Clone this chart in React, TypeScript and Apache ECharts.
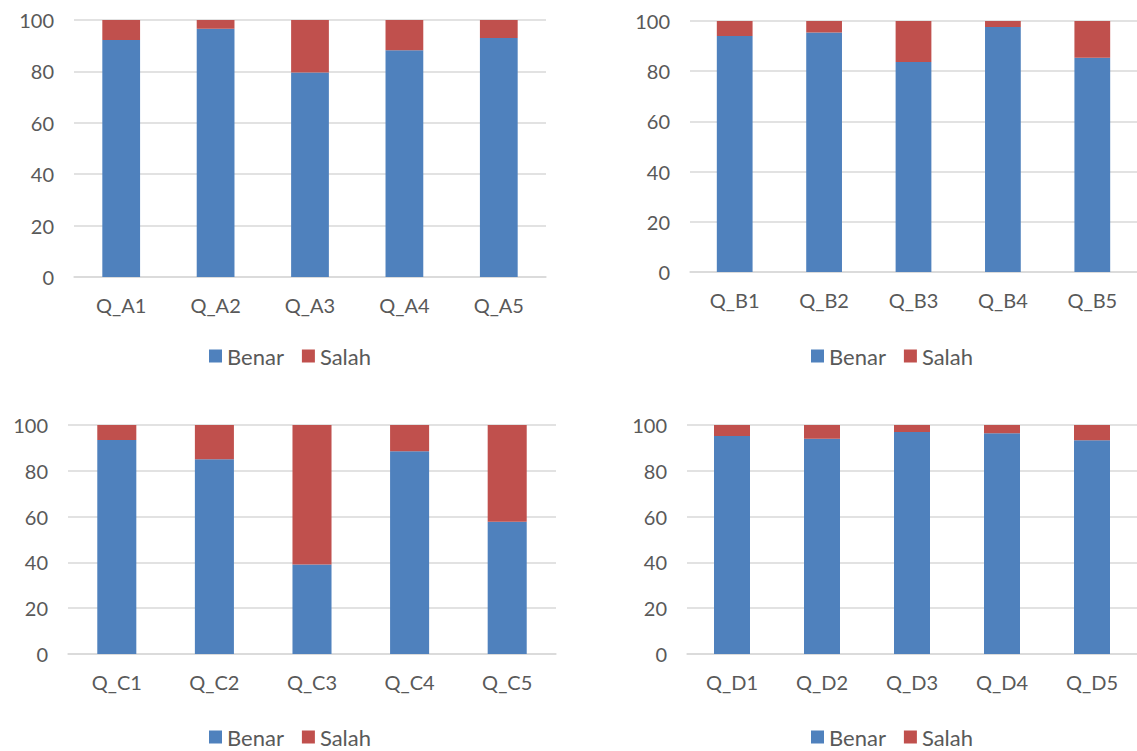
import React, { useEffect, useRef } from "react";
import * as echarts from "echarts";

const catsA = ["Q_A1", "Q_A2", "Q_A3", "Q_A4", "Q_A5"];
const catsB = ["Q_B1", "Q_B2", "Q_B3", "Q_B4", "Q_B5"];
const catsC = ["Q_C1", "Q_C2", "Q_C3", "Q_C4", "Q_C5"];
const catsD = ["Q_D1", "Q_D2", "Q_D3", "Q_D4", "Q_D5"];

const benarA = [92.2, 96.6, 79.6, 88.2, 93.0];
const benarB = [94.0, 95.4, 83.7, 97.6, 85.4];
const benarC = [93.4, 85.0, 39.1, 88.5, 57.8];
const benarD = [95.2, 94.0, 96.9, 96.4, 93.3];

const salahA = [7.8, 3.4, 20.4, 11.8, 7.0];
const salahB = [6.0, 4.6, 16.3, 2.4, 14.6];
const salahC = [6.6, 15.0, 60.9, 11.5, 42.2];
const salahD = [4.8, 6.0, 3.1, 3.6, 6.7];

const yTicks = [0, 20, 40, 60, 80, 100];

const BLUE = "#4F81BD";
const RED = "#C0504D";
const TXT = "#595959";
const GRID = "#D9D9D9";
const FONT = "Lato, 'Open Sans', sans-serif";

export default function App() {
  const ref = useRef<HTMLDivElement>(null);
  useEffect(() => {
    if (!ref.current) return;
    const chart = echarts.init(ref.current, null, { renderer: "svg" });
    const panels = [
      { cats: catsA, benar: benarA, salah: salahA, grid: { left: 74, width: 472, top: 20, height: 257 }, legendTop: 340, legendLeft: 204 },
      { cats: catsB, benar: benarB, salah: salahB, grid: { left: 690, width: 449, top: 21, height: 251 }, legendTop: 340, legendLeft: 806 },
      { cats: catsC, benar: benarC, salah: salahC, grid: { left: 68, width: 488, top: 425, height: 229 }, legendTop: 721, legendLeft: 204 },
      { cats: catsD, benar: benarD, salah: salahD, grid: { left: 687, width: 455, top: 425, height: 229 }, legendTop: 721, legendLeft: 806 },
    ];
    const option: any = {
      animation: false,
      backgroundColor: "#ffffff",
      textStyle: { fontFamily: FONT },
      grid: panels.map((p) => ({ ...p.grid, containLabel: false })),
      legend: panels.map((p) => ({
        data: ["Benar", "Salah"],
        left: p.legendLeft,
        top: p.legendTop,
        itemWidth: 13,
        itemHeight: 13,
        itemGap: 18,
        icon: "rect",
        textStyle: { fontSize: 22, color: TXT, fontFamily: FONT },
        selectedMode: false,
      })),
      xAxis: panels.map((p, i) => ({
        type: "category",
        gridIndex: i,
        data: p.cats,
        axisLine: { show: true, lineStyle: { color: GRID, width: 1.5 } },
        axisTick: { show: false },
        axisLabel: { fontSize: 20, color: TXT, margin: 18, fontFamily: FONT },
      })),
      yAxis: panels.map((p, i) => ({
        type: "value",
        gridIndex: i,
        min: yTicks[0],
        max: yTicks[yTicks.length - 1],
        interval: 20,
        axisLine: { show: false },
        axisTick: { show: false },
        splitLine: { lineStyle: { color: GRID, width: 1.5 } },
        axisLabel: { fontSize: 20, color: TXT, margin: 20, fontFamily: FONT },
      })),
      series: panels.flatMap((p, i) => [
        {
          name: "Benar",
          type: "bar",
          stack: "s" + i,
          xAxisIndex: i,
          yAxisIndex: i,
          data: p.benar,
          barWidth: "40%",
          itemStyle: { color: BLUE },
        },
        {
          name: "Salah",
          type: "bar",
          stack: "s" + i,
          xAxisIndex: i,
          yAxisIndex: i,
          data: p.salah,
          barWidth: "40%",
          itemStyle: { color: RED },
        },
      ]),
    };
    chart.setOption(option);
    return () => chart.dispose();
  }, []);
  return (
    <div
      ref={ref}
      style={{ position: "absolute", left: 0, top: 0, width: 1137, height: 751, background: "#fff" }}
    />
  );
}
